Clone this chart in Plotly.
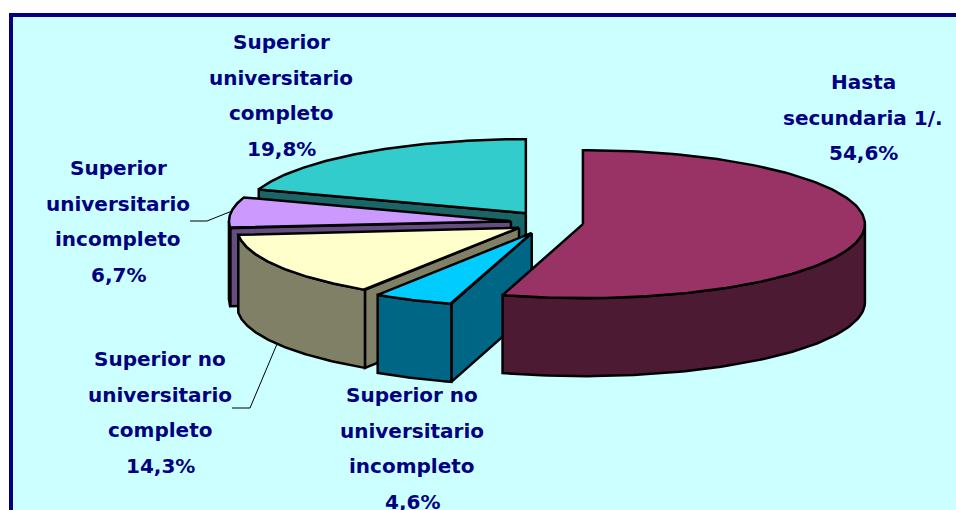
import numpy as np
import plotly.graph_objects as go

# ---- data (clockwise from 12 o'clock) ----
categories = ["Hasta secundaria 1/.", "Superior no universitario incompleto",
              "Superior no universitario completo", "Superior universitario incompleto",
              "Superior universitario completo"]
values = [54.6, 4.6, 14.3, 6.7, 19.8]
label_lines = [["Hasta", "secundaria 1/."],
               ["Superior no", "universitario", "incompleto"],
               ["Superior no", "universitario", "completo"],
               ["Superior", "universitario", "incompleto"],
               ["Superior", "universitario", "completo"]]
top_colors = ["#993366", "#00CCFF", "#FFFFCC", "#CC99FF", "#33CCCC"]
side_colors = ["#4D1A33", "#006685", "#808066", "#664D80", "#1A6666"]
explode = [1, 1, 0.9, 1, 1]
label_x = [863, 412, 160, 118, 281]
label_y = [82, 395, 359, 168, 42]
draw_order = [4, 3, 2, 1, 0]

# ---- projection constants (canvas px) ----
CX, CY, A, B, H, EX, EY = 547, 222.5, 282, 74, 78, 36.3, 11.5
LINE_STEP = 35.7
NAVY = "#000080"
FONT = dict(family="'DejaVu Sans', sans-serif", size=20, color=NAVY)

fig = go.Figure()

def add_poly(xs, ys, color, name):
    fig.add_trace(go.Scatter(x=xs, y=ys, mode="lines", fill="toself", fillcolor=color,
                             line=dict(color="black", width=2.5), hoverinfo="text", text=name,
                             showlegend=False))

cum = np.cumsum([0] + values) / sum(values) * 360
for i in draw_order:
    start, end = cum[i], cum[i + 1]
    mid = np.radians((start + end) / 2)
    ax = CX + EX * explode[i] * np.sin(mid)
    ay = CY - EY * explode[i] * np.cos(mid)
    rim = lambda deg: (ax + A * np.sin(np.radians(deg)), ay - B * np.cos(np.radians(deg)))
    # radial wall on the starting edge, when it faces the viewer
    if 180 < start < 360:
        rx, ry = rim(start)
        add_poly([ax, rx, rx, ax, ax], [ay, ry, ry + H, ay + H, ay], side_colors[i], categories[i])
    # outer curved wall
    w0, w1 = max(start, 90), min(end, 270)
    if w1 > w0:
        t = np.linspace(w0, w1, 80)
        px, py = rim(t)
        add_poly(np.r_[px, px[::-1], px[0]], np.r_[py, py[::-1] + H, py[0]], side_colors[i], categories[i])
    # top face
    t = np.linspace(start, end, 160)
    px, py = rim(t)
    add_poly(np.r_[ax, px, ax], np.r_[ay, py, ay], top_colors[i], categories[i])

# leader lines
leader_x = [[232, 207, 190], [277, 250, 232]]
leader_y = [[211, 221, 221], [344, 408, 408]]
for lx, ly in zip(leader_x, leader_y):
    fig.add_trace(go.Scatter(x=lx, y=ly, mode="lines", line=dict(color="black", width=1),
                             hoverinfo="skip", showlegend=False))

# labels, one annotation per line for the wide line spacing
for i, lines in enumerate(label_lines):
    pct = f"{values[i]:.1f}".replace(".", ",") + "%"
    for j, s in enumerate(lines + [pct]):
        fig.add_annotation(x=label_x[i], y=label_y[i] + j * LINE_STEP, text=f"<b>{s}</b>",
                           showarrow=False, font=FONT, xanchor="center", yanchor="middle")

fig.update_layout(
    width=956, height=510, margin=dict(l=0, r=0, t=0, b=0),
    paper_bgcolor="white", plot_bgcolor="white", showlegend=False,
    xaxis=dict(range=[0, 956], visible=False, fixedrange=True),
    yaxis=dict(range=[510, 0], visible=False, fixedrange=True),
    shapes=[dict(type="rect", xref="x", yref="y", x0=11, y0=15, x1=1100, y1=700,
                 fillcolor="#CCFFFF", line=dict(color=NAVY, width=4), layer="below")],
)
fig.write_html("out.html", config=dict(displayModeBar=False),
               post_script="document.body.style.margin='0';document.body.style.overflow='hidden';")
